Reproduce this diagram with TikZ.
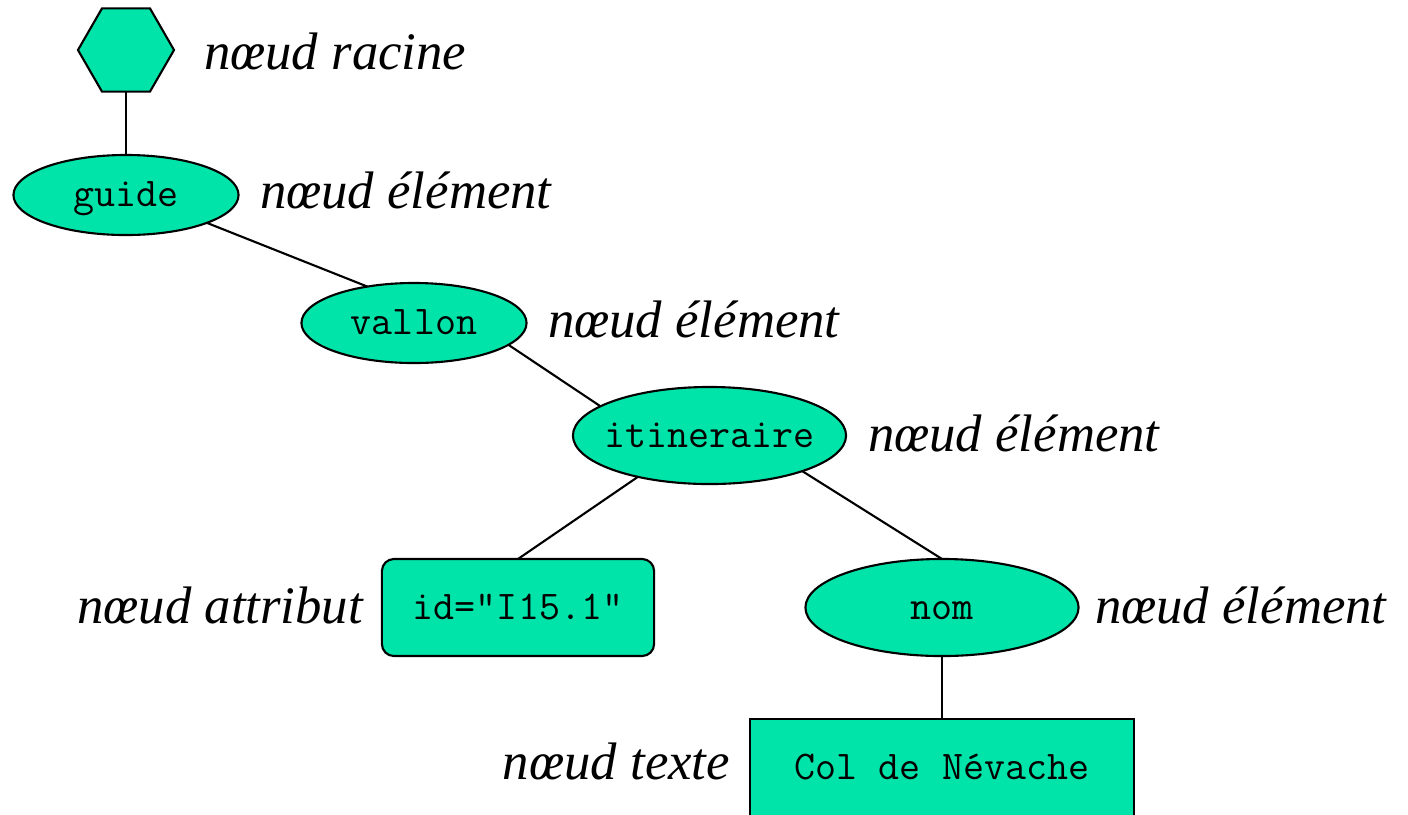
\documentclass[tikz,border=0pt]{standalone}
\usepackage{fontspec}
\setmainfont{Liberation Serif}
\setmonofont{Latin Modern Mono}
\usetikzlibrary{shapes.geometric}
\definecolor{nodefill}{RGB}{0,228,170}
% zero-size label, baseline set a little below the node centre
\newcommand{\nodetext}[1]{\makebox[0pt]{\raisebox{-3.3pt}[0pt][0pt]{#1}}}
\begin{document}
\begin{tikzpicture}[x=0.01cm,y=-0.01cm,
  line width=0.6pt,
  every node/.style={inner sep=0pt,outer sep=0pt},
  base/.style={draw=black,fill=nodefill,font=\fontsize{11.6}{12}\ttfamily},
  root/.style={base,regular polygon,regular polygon sides=6,minimum size=0.96cm},
  elem/.style={base,ellipse,minimum width=2.25cm,minimum height=0.8cm},
  elembig/.style={base,ellipse,minimum width=2.73cm,minimum height=0.97cm},
  attr/.style={base,rectangle,rounded corners=0.12cm,minimum width=2.72cm,minimum height=0.97cm},
  txt/.style={base,rectangle,minimum width=3.84cm,minimum height=0.98cm},
  lbl/.style={font=\fontsize{15}{18}\selectfont\itshape,anchor=base west},
  lblr/.style={font=\fontsize{15}{18}\selectfont\itshape,anchor=base east}]
\useasboundingbox (0,0) rectangle (1408,814);
\clip (0,0) rectangle (1408,814);

% tree nodes
\node[root] (racine) at (126,50) {};
\node[elem] (guide) at (126,195) {\nodetext{guide}};
\node[elem] (vallon) at (414,323) {\nodetext{vallon}};
\node[elembig] (itin) at (709.5,435.5) {\nodetext{itineraire}};
\node[attr] (attr) at (518,607.5) {\nodetext{id="I15.1"}};
\node[elembig] (nom) at (942,607.5) {\nodetext{nom}};
\node[txt] (texte) at (942,768) {\nodetext{Col de Névache}};

% edges
\draw (racine.south) -- (guide.north);
\draw (guide.-19) -- (vallon.142);
\draw (vallon.-13) -- (itin.165);
\draw (itin.210) -- (attr.north);
\draw (itin.-21) -- (nom.north);
\draw (nom.south) -- (texte.north);

% captions
\node[lbl] (l1) at (204,69) {nœud racine};
\node[lbl] (l2) at (260,208) {nœud élément};
\node[lbl] (l3) at (548,337) {nœud élément};
\node[lbl] (l4) at (868,451) {nœud élément};
\node[lblr] (l5) at (363,623) {nœud attribut};
\node[lbl] (l6) at (1095,623) {nœud élément};
\node[lblr] (l7) at (730,779) {nœud texte};
\end{tikzpicture}
\end{document}
